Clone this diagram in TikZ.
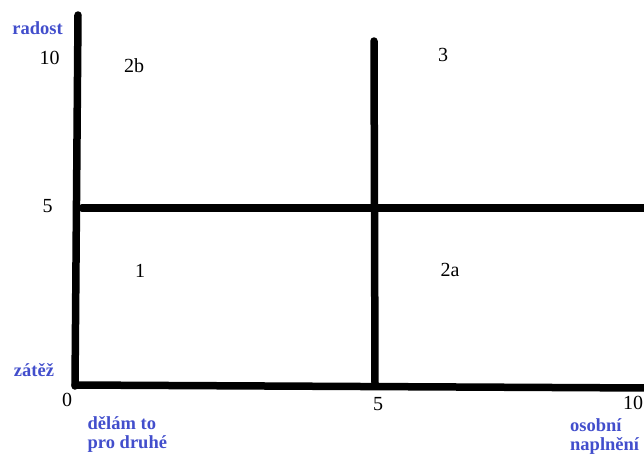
\documentclass[tikz,border=0pt]{standalone}
\usepackage{fontspec}
\setmainfont{Liberation Serif}
\usetikzlibrary{
  calc % For coordinate calculations
}
\definecolor{axisblue}{RGB}{66,78,204}

\begin{document}
\begin{tikzpicture}[
      x=1pt, y=-1pt, % pixel grid, origin top left
      bar/.style={line width=7.5pt, black, line cap=round}, % Style for the thick lines
      num/.style={font=\fontsize{20}{24}\selectfont, inner sep=0pt}, % Style for numbers
      axlabel/.style={font=\fontsize{18.5}{19}\selectfont\bfseries, text=axisblue, inner sep=0pt}, % Style for axis names
    ]

    \useasboundingbox (0,0) rectangle (644,456);

    % Koordinaten der Linien
    \coordinate (LT) at (78, 15);
    \coordinate (LB) at (75, 386);
    \coordinate (BL) at (75, 385);
    \coordinate (BR) at (650, 388);
    \coordinate (MT) at (374, 41);
    \coordinate (MB) at (375, 385);
    \coordinate (HL) at (82, 208);
    \coordinate (HR) at (650, 208);

    % Linien
    \foreach \i/\j in {LT/LB, BL/BR, MT/MB, HL/HR}
    \draw[bar] (\i) -- (\j);

    % Zahlen an den Achsen
    \node[num] (y10) at (49.5, 57.5) {10};
    \node[num] (y5) at (47.5, 206) {5};
    \node[num] (x0) at (67, 400) {0};
    \node[num] (x5) at (378, 404) {5};
    \node[num] (x10) at (633, 403) {10};

    % Felder
    \node[num] (f2b) at (134, 66) {2b};
    \node[num] (f3) at (443, 55) {3};
    \node[num] (f1) at (140, 271) {1};
    \node[num] (f2a) at (450, 270) {2a};

    % Achsenbeschriftung
    \node[axlabel] (radost) at (37.5, 28) {radost};
    \node[axlabel] (zatez) at (34, 370) {zátěž};
    \node[axlabel, align=left, anchor=north west] (druhe) at (87.5, 416) {dělám to\\pro druhé};
    \node[axlabel, align=left, anchor=north west] (naplneni) at (570, 418) {osobní\\naplnění};
  \end{tikzpicture}
\end{document}
